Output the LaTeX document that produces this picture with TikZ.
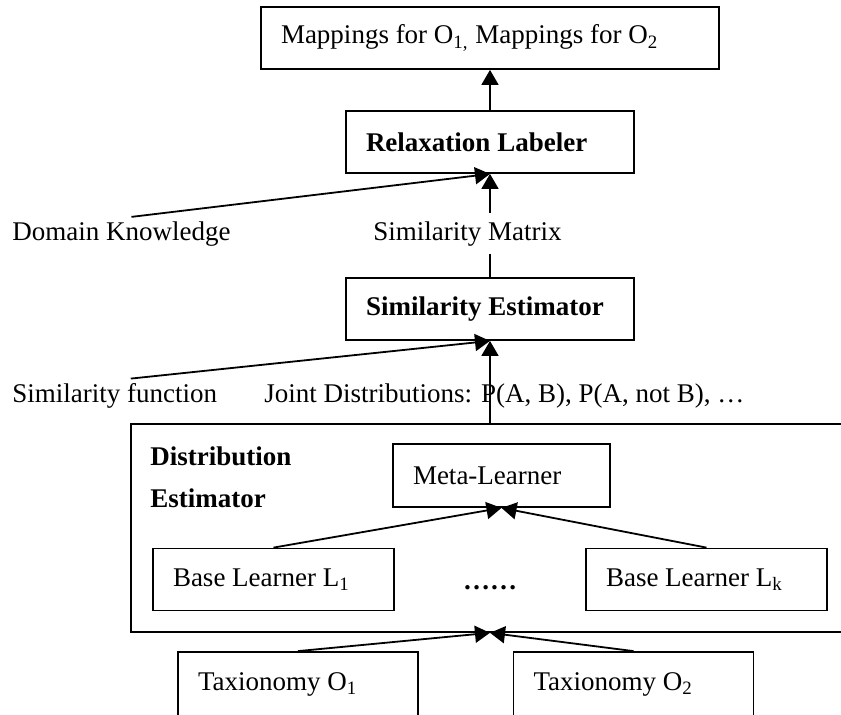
\documentclass[tikz,border=0pt]{standalone}
\usepackage{fontspec}
\setmainfont{Liberation Serif}
\usepackage{tikz}
\usetikzlibrary{positioning,arrows.meta,calc}

\begin{document}
\begin{tikzpicture}[x=0.5pt,y=-0.5pt,
  font=\fontsize{13.5pt}{16pt}\selectfont,
  wbox/.style={draw,line width=0.9pt,minimum height=31pt,inner xsep=10pt,inner ysep=0pt,align=flush left},
  plain/.style={inner sep=2pt},
  feed/.style={line width=0.9pt,-{Triangle[length=7.5pt,width=8.5pt]}}]
\useasboundingbox (0,0) rectangle (841,714);
\clip (0,0) rectangle (841,714);

\node[wbox,text width=209pt] (map) at (490,38) {Mappings for O\textsubscript{1,} Mappings for O\textsubscript{2}};
\node[wbox,text width=124pt] (relax) at (490,142) {\textbf{Relaxation Labeler}};
\node[wbox,text width=124pt] (simest) at (490,309) {\mbox{\textbf{Similarity Estimator}}};

\node[draw,line width=0.9pt,minimum width=370pt,minimum height=104pt,anchor=north west] (dist) at (130,423) {};
\node[anchor=north west,inner sep=0pt,align=flush left,
  font=\fontsize{13.5pt}{21pt}\selectfont\bfseries] (distlbl) at (150,446) {Distribution\\Estimator};
\node[wbox,text width=88.5pt,minimum height=31.5pt] (meta) at (501.5,475.5) {Meta-Learner};
\node[wbox,text width=100.5pt] (bl1) at (273.5,579.5) {Base Learner L\textsubscript{1}};
\node[wbox,text width=100.5pt] (blk) at (706.5,579.5) {Base Learner L\textsubscript{k}};
\node[anchor=base] (dots) at (490,589) {\textbf{……}};

\node[wbox,text width=100pt,minimum height=32pt] (tax1) at (298,684) {Taxionomy O\textsubscript{1}};
\node[wbox,text width=100pt,minimum height=32pt] (tax2) at (633.5,684) {Taxionomy O\textsubscript{2}};

\node[plain,anchor=base west] (dk) at (8,240) {Domain Knowledge};
\node[plain,anchor=base west] (sf) at (8,402) {Similarity function};
\node[plain,anchor=base west] (joint) at (260,402) {Joint Distributions: P(A, B), P(A, not B), …};

\draw[feed] (relax.north) -- (map.south);
\draw[feed] (simest.north) -- (relax.south);
\draw[feed] ([xshift=5pt]dk.north) -- (relax.south);
\draw[feed] ([xshift=8pt]sf.north) -- (simest.south);
\draw[feed] (dist.north -| simest.south) -- (simest.south);
\draw[feed] (bl1.north) -- (meta.south);
\draw[feed] (blk.north) -- (meta.south);
\draw[feed] (tax1.north) -- (dist.south -| simest.south);
\draw[feed] (tax2.north) -- (dist.south -| simest.south);

\node[plain,fill=white,inner ysep=4pt,anchor=base west] (smat) at (369,240) {Similarity Matrix};
\end{tikzpicture}
\end{document}
